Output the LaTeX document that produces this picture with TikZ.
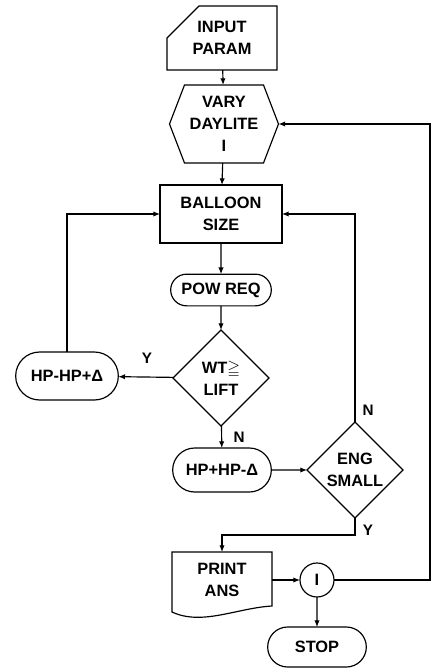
\documentclass[tikz,border=0pt]{standalone}
\usepackage{amsmath,amssymb}
\usepackage{fontspec}
\setmainfont{Liberation Sans}
\usetikzlibrary{calc,arrows.meta,shapes.geometric,shapes.misc}

\begin{document}
\begin{tikzpicture}[
    x=0.03cm, y=-0.03cm, line width=1pt,
    >={Latex[length=2mm,width=1.6mm]},
    every node/.style={font=\fontsize{14}{19}\selectfont\bfseries, align=center,
                       inner sep=1pt, outer sep=0pt},
    card/.style={chamfered rectangle, chamfered rectangle corners=north west,
                 chamfered rectangle xsep=6.9mm, chamfered rectangle ysep=4.2mm,
                 draw, minimum width=33mm, minimum height=17.7mm},
    shell/.style={rectangle, minimum width=#1},
    process/.style={rectangle, draw, minimum width=36.6mm, minimum height=17.4mm},
    terminal/.style={rounded rectangle, draw, minimum width=#1},
    decision/.style={diamond, draw, minimum width=28.8mm, minimum height=28.8mm},
    joint/.style={circle, draw, minimum size=10.2mm},
    lbl/.style={font=\fontsize{13}{15}\selectfont\bfseries}
]
\useasboundingbox (0,0) rectangle (432,668);

% nodes
\node[card]   (input)   at (222,38)  {INPUT\\PARAM};
\node[shell=32.7mm, minimum height=23.4mm] (vary) at (224,124) {VARY\\DAYLITE\\I};
\node[process] (balloon) at (221,214) {BALLOON\\SIZE};
\node[terminal=30.9mm, minimum height=9.5mm]  (powreq)  at (221,290) {POW REQ};
\node[decision] (wt)     at (221,378) {WT\(\boldsymbol{\geqq}\)\\LIFT};
\node[terminal=31.5mm, minimum height=14.4mm] (hpplus)  at (67,376)  {HP-HP+Δ};
\node[terminal=30.3mm, minimum height=13.2mm] (hpminus) at (222,470) {HP+HP-Δ};
\node[decision] (eng)    at (355,470) {ENG\\SMALL};
\node[shell=30mm, minimum height=16.8mm] (print) at (222,580) {PRINT\\ANS};
\node[joint]  (one)     at (317,580) {I};
\node[terminal=30.3mm, minimum height=12mm] (stop) at (317,647) {STOP};
\coordinate (edge) at (430,0);

% outlines
\draw (vary.west) -- ($(vary.north west)+(15,0)$) -- ($(vary.north east)+(-15,0)$)
  -- (vary.east) -- ($(vary.south east)+(-15,0)$) -- ($(vary.south west)+(15,0)$) -- cycle;
\draw (print.north west) -- (print.north east) -- ($(print.south east)+(0,-2)$)
  .. controls +(-35,2) and +(30,14) .. ($(print.south west)+(0,4)$) -- cycle;

% arrows
\draw[->] (input) -- (vary);
\draw[->] (vary) -- (balloon);
\draw[->] (balloon) -- (powreq);
\draw[->] (powreq) -- (wt);
\draw[->] (wt) -- (hpplus);
\draw[->] (hpplus) |- (balloon);
\draw[->] (wt) -- (hpminus);
\draw[->] (hpminus) -- (eng);
\draw[->] (eng) |- (balloon);
\draw[->] (eng.south) |- ($(eng.south)!.5!(print.north)$) -| (print.north);
\draw[->] (print.east) -- (one);
\draw[->] (one) -- (stop);
\draw[->] (one.east) -- (one.east -| edge) -- (vary.east -| edge) -- (vary.east);

% labels
\node[lbl] (ywt)  at (147,358) {Y};
\node[lbl] (nwt)  at (239,437) {N};
\node[lbl] (neng) at (368,410) {N};
\node[lbl] (yeng) at (368,530) {Y};

\end{tikzpicture}
\end{document}
